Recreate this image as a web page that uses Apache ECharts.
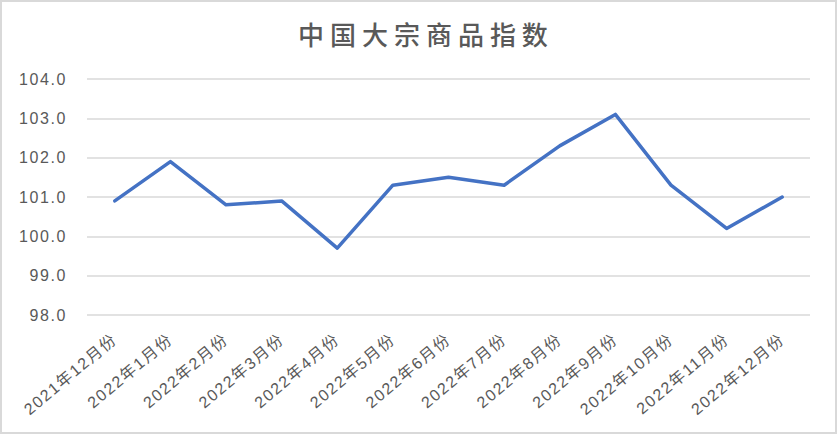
<!DOCTYPE html>
<html>
<head>
<meta charset="utf-8">
<script src="https://cdn.jsdelivr.net/npm/echarts@6/dist/echarts.min.js"></script>
<style>
html,body{margin:0;padding:0;background:#fff;}
#wrap{width:837px;height:434px;box-sizing:border-box;border:2px solid #d9d9d9;position:relative;}
#chart{position:absolute;left:-2px;top:-2px;width:837px;height:434px;}
#chart text{letter-spacing:0.1em;}
#chart text[style*="26px"]{letter-spacing:0.23em;}
</style>
</head>
<body>
<div id="wrap"><div id="chart"></div></div>
<script>
const titleText = '中国大宗商品指数';
const categories = ['2021年12月份','2022年1月份','2022年2月份','2022年3月份','2022年4月份','2022年5月份','2022年6月份','2022年7月份','2022年8月份','2022年9月份','2022年10月份','2022年11月份','2022年12月份'];
const values = [100.9, 101.9, 100.8, 100.9, 99.7, 101.3, 101.5, 101.3, 102.3, 103.1, 101.3, 100.2, 101.0];
const yMin = 98, yMax = 104, yStep = 1;

const chart = echarts.init(document.getElementById('chart'), null, {renderer:'svg'});
chart.setOption({
  animation:false,
  title:{
    text:titleText, left:293, top:15,
    textStyle:{fontSize:26, fontWeight:500, color:'#595959', fontFamily:'Noto Sans CJK SC, sans-serif'}
  },
  grid:{left:87, right:27, top:79, bottom:119, containLabel:false},
  xAxis:{
    type:'category', data:categories, boundaryGap:true,
    axisLine:{show:false}, axisTick:{show:false},
    axisLabel:{rotate:40, interval:0, margin:22, fontSize:16, color:'#595959', fontFamily:'Liberation Sans, Noto Sans CJK SC, sans-serif'}
  },
  yAxis:{
    type:'value', min:yMin, max:yMax, interval:yStep,
    axisLine:{show:false}, axisTick:{show:false},
    axisLabel:{formatter:v=>v.toFixed(1), fontSize:16, color:'#595959', margin:20, fontFamily:'Liberation Sans, sans-serif'},
    splitLine:{lineStyle:{color:'#d9d9d9', width:1.5}}
  },
  series:[{
    type:'line', data:values, showSymbol:false, symbol:'none',
    lineStyle:{color:'#4472C4', width:3.5, cap:'round', join:'round'}
  }]
});
</script>
</body>
</html>
